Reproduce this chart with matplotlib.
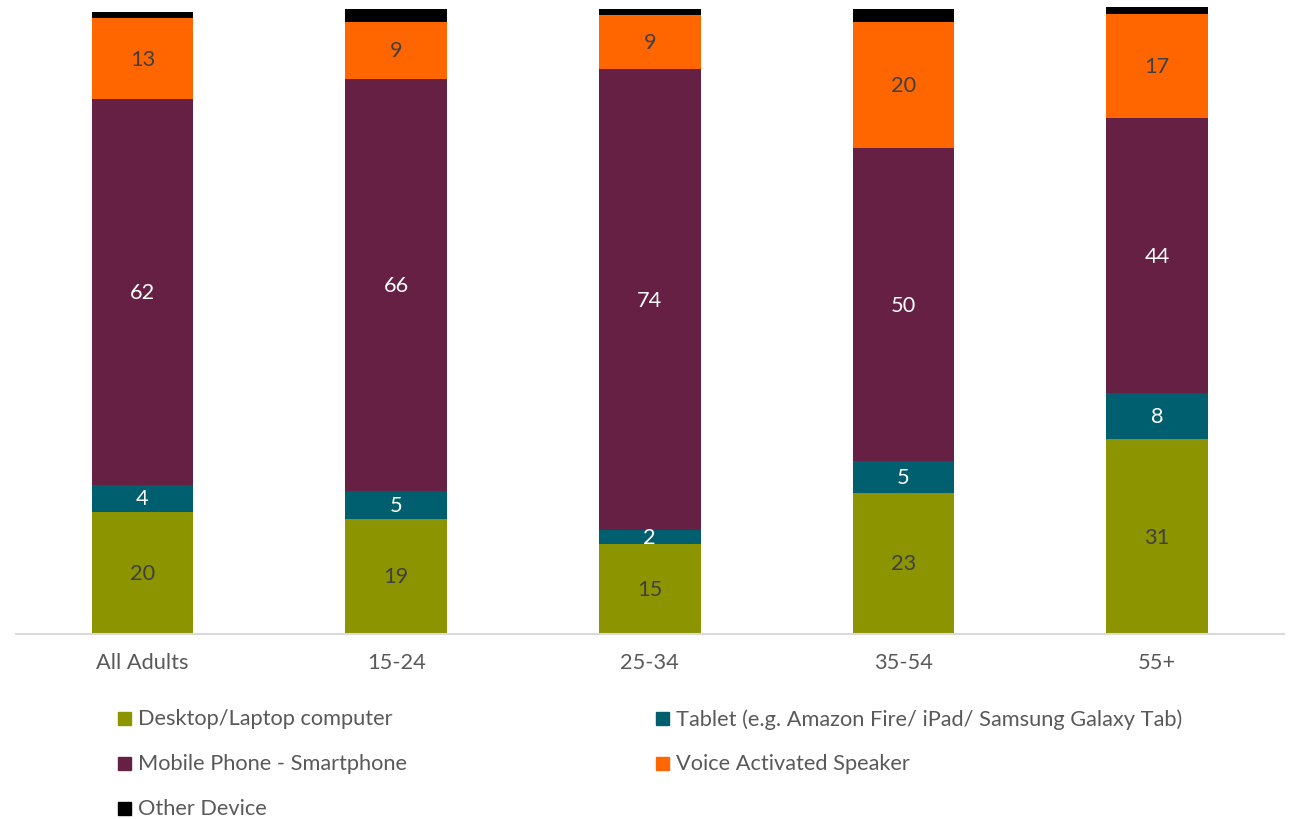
import matplotlib
matplotlib.use("Agg")
import matplotlib.pyplot as plt
import numpy as np
from matplotlib.patches import Rectangle

plt.rcParams['font.family'] = ['Lato', 'DejaVu Sans']

categories = ["All Adults", "15-24", "25-34", "35-54", "55+"]
series_names = ["Desktop/Laptop computer",
                "Tablet (e.g. Amazon Fire/ iPad/ Samsung Galaxy Tab)",
                "Mobile Phone - Smartphone",
                "Voice Activated Speaker",
                "Other Device"]
desktop = [19.7, 18.6, 14.5, 22.8, 31.4]
tablet = [4.3, 4.5, 2.2, 5.1, 7.5]
mobile = [62.3, 66.4, 74.4, 50.4, 44.2]
voice = [12.9, 9.2, 8.7, 20.4, 16.8]
other = [1.0, 2.0, 1.0, 2.0, 1.1]
series = [desktop, tablet, mobile, voice, other]
colors = ["#8C9400", "#005F6E", "#662044", "#FF6600", "#000000"]
label_colors = ["#404040", "#FFFFFF", "#FFFFFF", "#404040", None]

W, H = 1289, 820
FS = 15.7
base_px = 635.0
fig = plt.figure(figsize=(W / 100, H / 100), dpi=100)
ax = fig.add_axes([15.6 / W, 1 - base_px / H, (1284 - 15.6) / W, (base_px - 1.5) / H])

x = np.arange(len(categories))
bottom = np.zeros(len(categories))
for vals, col, lc in zip(series, colors, label_colors):
    vals = np.array(vals, dtype=float)
    ax.bar(x, vals, width=0.4, bottom=bottom, color=col, edgecolor='none', zorder=2)
    if lc is not None:
        for xi, b, v in zip(x, bottom, vals):
            ax.text(xi, b + v / 2, f"{int(np.floor(v + 0.5))}", ha='center', va='center',
                    color=lc, fontsize=FS)
    bottom += vals

ax.set_xlim(-0.5, len(categories) - 0.5)
ax.set_ylim(0, 102.1)
for s in ['top', 'right', 'left']:
    ax.spines[s].set_visible(False)
ax.spines['bottom'].set_color('#D9D9D9')
ax.spines['bottom'].set_linewidth(1.5)
ax.set_yticks([])
ax.set_xticks(x)
ax.set_xticklabels(categories, fontsize=FS, color='#595959')
ax.tick_params(axis='x', length=0, pad=13)

# legend (manual, two columns)
order = [0, 2, 4, 1, 3]
positions = {0: (118, 719.5), 2: (118, 764.5), 4: (118, 809.5), 1: (656, 719.5), 3: (656, 764.5)}
for i in order:
    px, py = positions[i]
    fig.patches.append(Rectangle((px / W, 1 - (py + 6.5) / H), 13 / W, 13 / H,
                                 transform=fig.transFigure, color=colors[i], figure=fig))
    fig.text((px + 20) / W, 1 - py / H, series_names[i], ha='left', va='center',
             fontsize=FS, color='#595959')

fig.savefig("out.png", dpi=100)
